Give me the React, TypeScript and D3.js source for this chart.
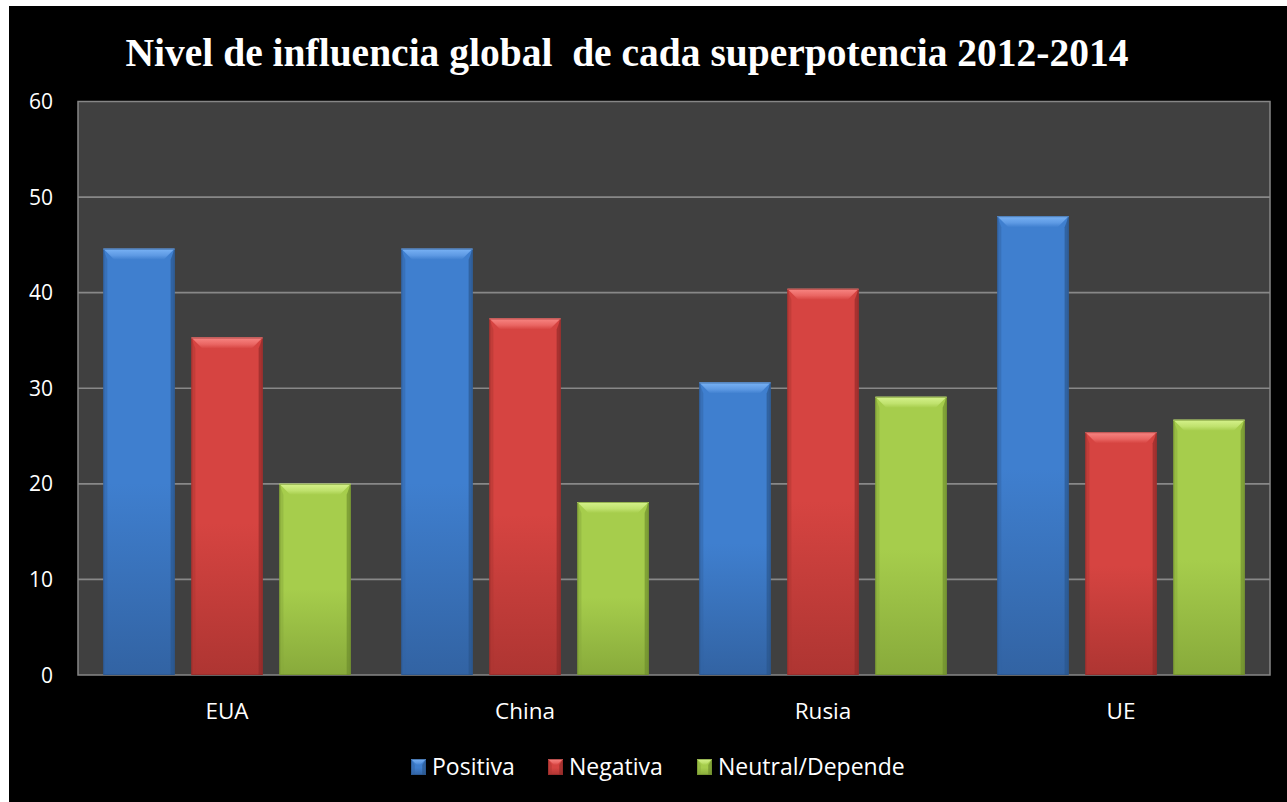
import React from "react";
import * as d3 from "d3";

const categories = ["EUA", "China", "Rusia", "UE"];
const seriesNames = ["Positiva", "Negativa", "Neutral/Depende"];
const positiva = [44.6, 44.6, 30.6, 48.0];
const negativa = [35.3, 37.3, 40.4, 25.4];
const neutral = [20.0, 18.1, 29.1, 26.7];
const yTicks = [0, 10, 20, 30, 40, 50, 60];
const title = "Nivel de influencia global  de cada superpotencia 2012-2014";

const palettes = [
  { main: "#3f7fcf", dark: "#3263a3", top: "#7ab3f5", mid: "#5e9ae4", edge: "#2a5488" },
  { main: "#d64441", dark: "#ae3532", top: "#f88784", mid: "#ea6663", edge: "#8e2a28" },
  { main: "#a6cd4c", dark: "#88aa3b", top: "#d6f28c", mid: "#c0e26e", edge: "#6c8a2c" },
];

const W = 1287;
const H = 802;
const plot = { left: 78, right: 1270, top: 101.5, bottom: 675 };

// Bar with a bevelled top edge and shaded sides
function BevelBar({ x, y, w, h, p, id, b }: any) {
  const bb = Math.min(b, h / 2, w / 2);
  const side = Math.min(4, w / 4);
  return (
    <g>
      <rect x={x} y={y} width={w} height={h} fill={`url(#body-${id})`} />
      <polygon
        points={`${x},${y} ${x + side},${y + bb} ${x + side},${y + h} ${x},${y + h}`}
        fill={p.dark}
        opacity={0.5}
      />
      <polygon
        points={`${x + w},${y} ${x + w - side},${y + bb} ${x + w - side},${y + h} ${x + w},${y + h}`}
        fill={p.edge}
        opacity={0.65}
      />
      <polygon
        points={`${x},${y} ${x + w},${y} ${x + w - bb},${y + bb} ${x + bb},${y + bb}`}
        fill={`url(#top-${id})`}
      />
      <line x1={x} y1={y + 0.5} x2={x + w} y2={y + 0.5} stroke={p.top} strokeWidth={1} />
      <rect x={x + 0.5} y={y + 0.5} width={w - 1} height={h - 1} fill="none" stroke={p.edge} strokeWidth={1} opacity={0.6} />
    </g>
  );
}

export default function App() {
  const series = [positiva, negativa, neutral];
  const x0 = d3.scaleBand<string>().domain(categories).range([plot.left, plot.right]).paddingInner(0).paddingOuter(0);
  const inner = x0.bandwidth();
  const groupW = inner * 0.83;
  const x1 = d3
    .scaleBand<number>()
    .domain([0, 1, 2])
    .range([(inner - groupW) / 2, (inner + groupW) / 2])
    .paddingInner(0.19);
  const y = d3.scaleLinear().domain([0, 60]).range([plot.bottom, plot.top]);

  const fontSans = "'Open Sans', 'Noto Sans', sans-serif";
  const legendX = [411, 548, 697];

  return (
    <svg
      width={W}
      height={H}
      style={{ position: "absolute", left: 0, top: 0, display: "block" }}
    >
      <defs>
        {palettes.map((p, i) => (
          <React.Fragment key={i}>
            <linearGradient id={`body-${i}`} x1="0" y1="0" x2="0" y2="1">
              <stop offset="0" stopColor={p.main} />
              <stop offset="0.55" stopColor={p.main} />
              <stop offset="1" stopColor={p.dark} />
            </linearGradient>
            <linearGradient id={`top-${i}`} x1="0" y1="0" x2="0" y2="1">
              <stop offset="0" stopColor={p.top} />
              <stop offset="0.6" stopColor={p.mid} />
              <stop offset="1" stopColor={p.main} />
            </linearGradient>
          </React.Fragment>
        ))}
      </defs>
      <rect x={0} y={0} width={W} height={H} fill="#ffffff" />
      <rect x={9} y={6} width={W - 9} height={H - 6} fill="#000000" />

      <text
        x={627}
        y={66}
        textAnchor="middle"
        fill="#ffffff"
        fontFamily="'Liberation Serif', 'Times New Roman', serif"
        fontWeight="bold"
        fontSize={39.5}
        style={{ whiteSpace: "pre" }}
      >
        {title}
      </text>

      <rect
        x={plot.left}
        y={plot.top}
        width={plot.right - plot.left}
        height={plot.bottom - plot.top}
        fill="#404040"
        stroke="#868686"
        strokeWidth={1.5}
      />
      {yTicks.filter((t) => t > 0 && t < 60).map((t) => (
        <line
          key={t}
          x1={plot.left}
          x2={plot.right}
          y1={y(t)}
          y2={y(t)}
          stroke="#888888"
          strokeWidth={1.6}
        />
      ))}

      {categories.map((c, ci) =>
        series.map((vals, si) => {
          const bx = (x0(c) as number) + (x1(si) as number);
          const by = y(vals[ci]);
          return (
            <BevelBar
              key={`${c}-${si}`}
              x={bx}
              y={by}
              w={x1.bandwidth()}
              h={plot.bottom - by}
              p={palettes[si]}
              id={si}
              b={11}
            />
          );
        })
      )}

      {yTicks.map((t) => (
        <text
          key={t}
          x={53}
          y={y(t)}
          dy="0.36em"
          textAnchor="end"
          fill="#ffffff"
          fontFamily={fontSans}
          fontSize={21}
        >
          {t}
        </text>
      ))}

      {categories.map((c) => (
        <text
          key={c}
          x={(x0(c) as number) + inner / 2}
          y={719}
          textAnchor="middle"
          fill="#ffffff"
          fontFamily={fontSans}
          fontSize={22.5}
        >
          {c}
        </text>
      ))}

      {seriesNames.map((n, i) => (
        <g key={n}>
          <BevelBar x={legendX[i]} y={759} w={15} h={16} p={palettes[i]} id={i} b={6} />
          <text
            x={legendX[i] + 21}
            y={775}
            fill="#ffffff"
            fontFamily={fontSans}
            fontSize={23}
          >
            {n}
          </text>
        </g>
      ))}
    </svg>
  );
}
